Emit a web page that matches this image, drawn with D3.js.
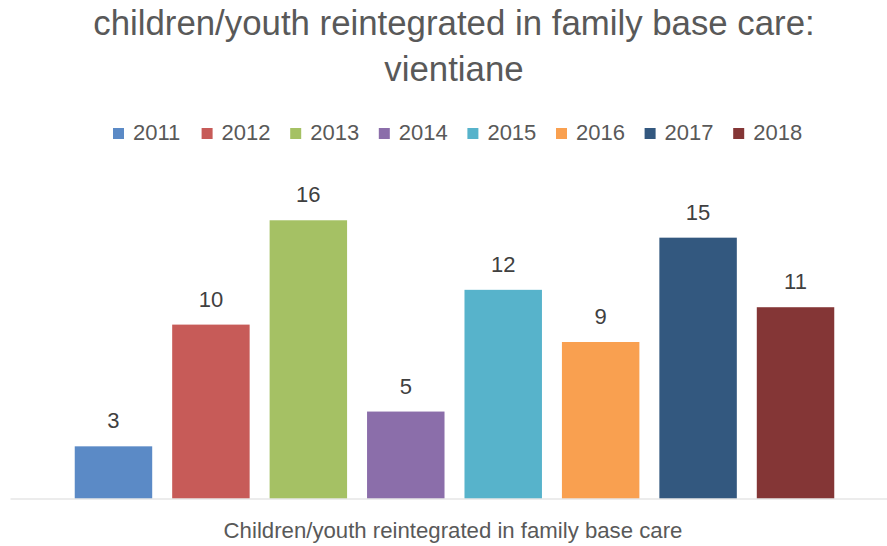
<!DOCTYPE html>
<html>
<head>
<meta charset="utf-8">
<script src="https://cdn.jsdelivr.net/npm/d3@7"></script>
<style>
  html, body { margin: 0; padding: 0; background: #fff; }
  svg { display: block; font-family: "Liberation Sans", Arial, sans-serif; }
</style>
</head>
<body>
<svg id="chart" width="887" height="546"></svg>
<script>
// Reintegration counts per year
const years = ["2011", "2012", "2013", "2014", "2015", "2016", "2017", "2018"];
const values = [3, 10, 16, 5, 12, 9, 15, 11];
const colors = ["#5B8AC6", "#C75B58", "#A5C164", "#8B6EAA", "#57B3CB", "#F9A050", "#33587F", "#843636"];
const titleLines = ["children/youth reintegrated in family base care:", "vientiane"];
const axisTitle = "Children/youth reintegrated in family base care";

const svg = d3.select("#chart");
const cx = 454; // horizontal centre of the titles

const x = d3.scaleBand().domain(years).range([65, 844]).paddingInner(0.205).paddingOuter(0.1);
const y = d3.scaleLinear().domain([0, 18]).range([498.5, 185.5]);
const color = d3.scaleOrdinal().domain(years).range(colors);

// Title
svg.append("g").selectAll("text").data(titleLines).join("text")
  .attr("x", cx)
  .attr("y", (d, i) => 35 + i * 46)
  .attr("text-anchor", "middle")
  .attr("font-size", 34.8)
  .attr("fill", "#595959")
  .text(d => d);

// Legend
const legend = svg.append("g").attr("transform", "translate(113,0)");
const item = legend.selectAll("g").data(years).join("g")
  .attr("transform", (d, i) => `translate(${i * 88.6},0)`);
item.append("rect").attr("x", 0).attr("y", 128).attr("width", 11).attr("height", 11)
  .attr("fill", d => color(d));
item.append("text").attr("x", 20).attr("y", 140)
  .attr("font-size", 22).attr("fill", "#595959").text(d => d);

// Bars
svg.append("g").selectAll("rect").data(years).join("rect")
  .attr("x", d => x(d))
  .attr("width", x.bandwidth())
  .attr("y", (d, i) => y(values[i]))
  .attr("height", (d, i) => y(0) - y(values[i]))
  .attr("fill", d => color(d));

// Value labels
svg.append("g").selectAll("text").data(years).join("text")
  .attr("x", d => x(d) + x.bandwidth() / 2)
  .attr("y", (d, i) => y(values[i]) - 18)
  .attr("text-anchor", "middle")
  .attr("font-size", 22)
  .attr("fill", "#404040")
  .text((d, i) => values[i]);

// Category axis (baseline only)
const xAxis = svg.append("g").attr("transform", `translate(0,${y(0)})`)
  .call(d3.axisBottom(d3.scaleLinear().range([10, 887])).ticks(0).tickSize(0));
xAxis.select(".domain").attr("stroke", "#d9d9d9").attr("stroke-width", 1.2);
xAxis.selectAll("text").remove();

svg.append("text")
  .attr("x", 453)
  .attr("y", 538)
  .attr("text-anchor", "middle")
  .attr("font-size", 22.2)
  .attr("fill", "#595959")
  .text(axisTitle);
</script>
</body>
</html>
